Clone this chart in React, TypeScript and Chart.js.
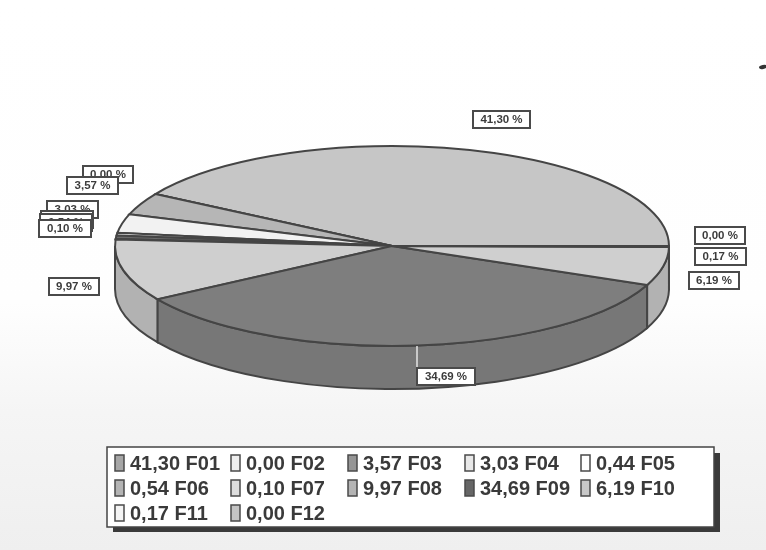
import React, { useEffect, useRef } from "react";
import { Chart, registerables } from "chart.js";

Chart.register(...registerables);

const seriesNames = ["F01", "F02", "F03", "F04", "F05", "F06", "F07", "F08", "F09", "F10", "F11", "F12"];
const seriesValues = [41.3, 0.0, 3.57, 3.03, 0.44, 0.54, 0.1, 9.97, 34.69, 6.19, 0.17, 0.0];
const sliceColors = ["#c6c6c6", "#e6e6e6", "#b6b6b6", "#f2f2f2", "#fafafa", "#6a6a6a", "#555555", "#cfcfcf", "#7e7e7e", "#cfcfcf", "#eeeeee", "#cccccc"];
const wallColors = ["#a8a8a8", "#c0c0c0", "#989898", "#d0d0d0", "#d8d8d8", "#555555", "#444444", "#b2b2b2", "#777777", "#b2b2b2", "#cccccc", "#aaaaaa"];
const swatchColors = ["#a6a6a6", "#eeeeee", "#969696", "#e8e8e8", "#ffffff", "#b4b4b4", "#dddddd", "#b4b4b4", "#666666", "#c8c8c8", "#f4f4f4", "#c4c4c4"];

// left / top of each value label's box, in series order
const labelLefts = [473, 83, 67, 47, 41, 40, 39, 49, 417, 689, 695, 695];
const labelTops = [111, 166, 177, 201, 211, 214, 220, 278, 368, 272, 248, 227];
const labelWidths = [57, 50, 51, 51, 52, 52, 52, 50, 58, 50, 51, 50];

const legendColumns = [115, 231, 348, 465, 581];
const legendRows = [463, 488, 513];

const PIE = { cx: 392, cy: 246, rx: 277, ry: 100, depth: 43 };
const OUTLINE = "#454545";

const fmt = (v: number) => v.toFixed(2).replace(".", ",");

const pt = (a: number, dy = 0): [number, number] => [
  PIE.cx + PIE.rx * Math.cos(a),
  PIE.cy - PIE.ry * Math.sin(a) + dy,
];

const piePlugin = {
  id: "flatPie",
  beforeDatasetsDraw(chart: any) {
    const ctx: CanvasRenderingContext2D = chart.ctx;
    const arcs = chart.getDatasetMeta(0).data;
    const TAU = Math.PI * 2;

    // front wall: only the part of each slice lying in the lower half of the ellipse
    arcs.forEach((el: any, i: number) => {
      const { startAngle, endAngle } = el.getProps(["startAngle", "endAngle"], true);
      let a = ((startAngle % TAU) + TAU) % TAU;
      let b = a + (endAngle - startAngle);
      a = Math.max(a, Math.PI);
      b = Math.min(b, TAU);
      if (b <= a) return;
      ctx.save();
      ctx.beginPath();
      ctx.ellipse(PIE.cx, PIE.cy, PIE.rx, PIE.ry, 0, -a, -b, true);
      ctx.lineTo(...pt(b, PIE.depth));
      ctx.ellipse(PIE.cx, PIE.cy + PIE.depth, PIE.rx, PIE.ry, 0, -b, -a, false);
      ctx.closePath();
      ctx.fillStyle = wallColors[i];
      ctx.strokeStyle = OUTLINE;
      ctx.lineWidth = 2;
      ctx.fill();
      ctx.stroke();
      ctx.restore();
    });

    // top face: the library's arc elements, flattened to an ellipse and mirrored so they run anticlockwise
    arcs.forEach((el: any) => {
      const p = el.getProps(["x", "y", "startAngle", "endAngle", "outerRadius"], true);
      ctx.save();
      ctx.save();
      ctx.translate(PIE.cx, PIE.cy);
      ctx.scale(PIE.rx / p.outerRadius, -PIE.ry / p.outerRadius);
      ctx.translate(-p.x, -p.y);
      ctx.beginPath();
      ctx.moveTo(p.x, p.y);
      ctx.arc(p.x, p.y, p.outerRadius, p.startAngle, p.endAngle);
      ctx.closePath();
      ctx.restore();
      ctx.fillStyle = el.options.backgroundColor;
      ctx.strokeStyle = OUTLINE;
      ctx.lineWidth = 2;
      ctx.fill();
      ctx.stroke();
      ctx.restore();
    });

    // leader of the F09 label
    ctx.save();
    ctx.strokeStyle = "#e4e4e4";
    ctx.lineWidth = 1.5;
    ctx.beginPath();
    ctx.moveTo(417, PIE.cy + PIE.ry);
    ctx.lineTo(417, 368);
    ctx.stroke();
    ctx.restore();
    return false;
  },
  afterDraw(chart: any) {
    const ctx: CanvasRenderingContext2D = chart.ctx;
    ctx.save();

    // value labels
    ctx.font = "bold 11.5px 'Liberation Sans'";
    ctx.textAlign = "center";
    ctx.textBaseline = "middle";
    seriesValues.forEach((v, i) => {
      const x = labelLefts[i];
      const y = labelTops[i];
      const w = labelWidths[i];
      ctx.fillStyle = "#ffffff";
      ctx.strokeStyle = "#4a4a4a";
      ctx.lineWidth = 2;
      ctx.fillRect(x, y, w, 17);
      ctx.strokeRect(x, y, w, 17);
      ctx.fillStyle = "#3c3c3c";
      ctx.fillText(`${fmt(v)} %`, x + w / 2, y + 9);
    });

    // legend
    ctx.fillStyle = "#3a3a3a";
    ctx.fillRect(113, 453, 607, 79);
    ctx.fillStyle = "#ffffff";
    ctx.strokeStyle = "#444444";
    ctx.lineWidth = 1.5;
    ctx.fillRect(107, 447, 607, 80);
    ctx.strokeRect(107, 447, 607, 80);
    ctx.font = "bold 20px 'Liberation Sans'";
    ctx.textAlign = "left";
    seriesValues.forEach((v, i) => {
      const col = legendColumns[i % legendColumns.length];
      const row = legendRows[Math.floor(i / legendColumns.length)];
      ctx.fillStyle = swatchColors[i];
      ctx.strokeStyle = "#4a4a4a";
      ctx.lineWidth = 1.5;
      ctx.fillRect(col, row - 8, 9, 16);
      ctx.strokeRect(col, row - 8, 9, 16);
      ctx.fillStyle = "#3a3a3a";
      ctx.fillText(`${fmt(v)} ${seriesNames[i]}`, col + 15, row + 1);
    });

    // speck in the upper right corner of the scan
    ctx.fillStyle = "#333333";
    ctx.beginPath();
    ctx.ellipse(763, 67, 4, 2, -0.2, 0, Math.PI * 2);
    ctx.fill();
    ctx.restore();
  },
};

export default function App() {
  const ref = useRef<HTMLCanvasElement>(null);
  useEffect(() => {
    const chart = new Chart(ref.current!, {
      type: "pie",
      data: {
        labels: seriesNames,
        datasets: [{ data: seriesValues, backgroundColor: sliceColors, borderWidth: 0 }],
      },
      options: {
        responsive: false,
        animation: false,
        rotation: 90,
        layout: { padding: 0 },
        plugins: { legend: { display: false }, tooltip: { enabled: false }, title: { display: false } },
      },
      plugins: [piePlugin],
    } as any);
    return () => chart.destroy();
  }, []);
  return (
    <div
      style={{
        position: "absolute",
        left: 0,
        top: 0,
        width: 766,
        height: 550,
        overflow: "hidden",
        background: "linear-gradient(to bottom, #ffffff 0%, #fefefe 55%, #f5f5f5 75%, #efefef 100%)",
      }}
    >
      <canvas ref={ref} width={766} height={550} style={{ display: "block" }} />
    </div>
  );
}
